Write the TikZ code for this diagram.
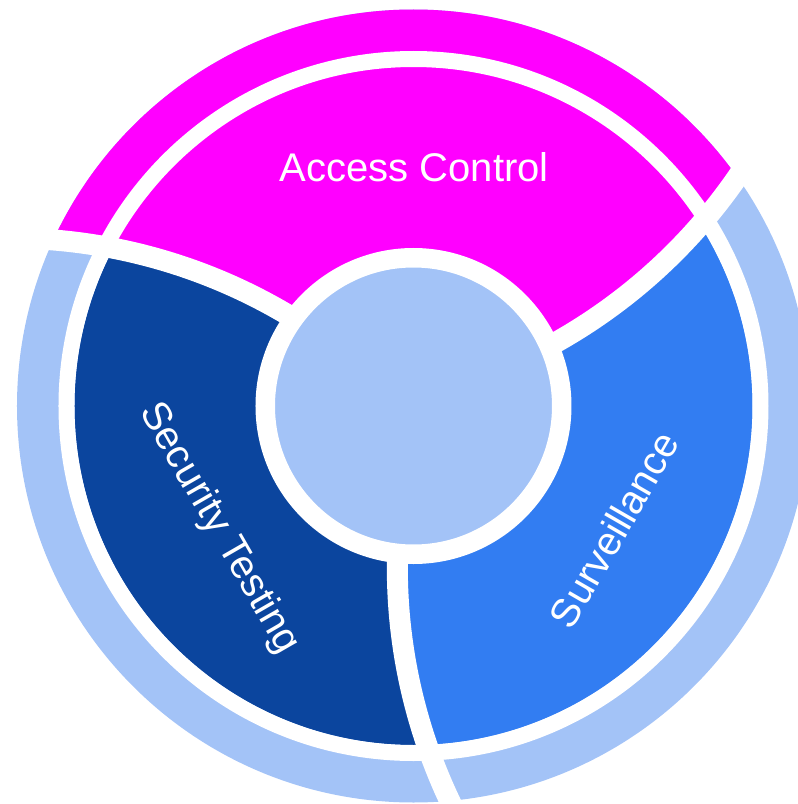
\documentclass[tikz,border=0pt]{standalone}
\usepackage{fontspec}
\setmainfont{Liberation Sans}
\usetikzlibrary{calc}
\definecolor{cbMagenta}{RGB}{255,0,255}
\definecolor{cbNavy}{RGB}{11,69,158}
\definecolor{cbBlue}{RGB}{50,125,242}
\definecolor{cbSky}{RGB}{163,195,247}
% petal between the swirl with centre angle #1 and the next one
\newcommand{\Petal}[1]{($(#1:553)+({#1+180}:545)$) arc[start angle=#1+180,end angle=#1+230,radius=545pt]
  -- ({#1-60}:700) arc[start angle=#1-60,end angle=#1+60,radius=700pt]
  -- ($({#1+120}:553)+({#1+350}:545)$) arc[start angle=#1+350,end angle=#1+300,radius=545pt] -- cycle}
\tikzset{
    swirl/.style={draw=white,line width=21pt},
    hub/.style={circle,fill=cbSky,draw=white,line width=19.5pt,minimum size=296.5pt,inner sep=0pt},
    lbl/.style={text=white,inner sep=0pt,font=\fontsize{40}{48}\selectfont},
}
\begin{document}
\begin{tikzpicture}[x=1pt,y=1pt]
    \useasboundingbox (-413.5,-398) rectangle (384.5,406);
    % outer ring
    \fill[cbSky] (0,0) circle[radius=396.5pt];
    \begin{scope}
        \clip (0,0) circle[radius=396.5pt];
        \fill[cbMagenta] \Petal{103};
    \end{scope}
    % segments
    \begin{scope}
        \clip (0,0) circle[radius=339pt];
        \fill[cbNavy] \Petal{223};
        \fill[cbBlue] \Petal{-17};
    \end{scope}
    \draw[white,line width=16pt] (0,0) circle[radius=347pt];
    \foreach \a in {103,223,-17}
        \draw[swirl] ($(\a:553)+({\a+180}:545)$) arc[start angle=\a+180,end angle=\a+235,radius=545pt];
    \node[hub] (core) at (0,0) {};

    \node[lbl] (access) at (0.7,238.5) {Access Control};
    \node[lbl,rotate=-60] (testing) at (-194.5,-122.5) {Security Testing};
    \node[lbl,rotate=60] (surveil) at (200.5,-123.5) {Surveillance};
\end{tikzpicture}
\end{document}
